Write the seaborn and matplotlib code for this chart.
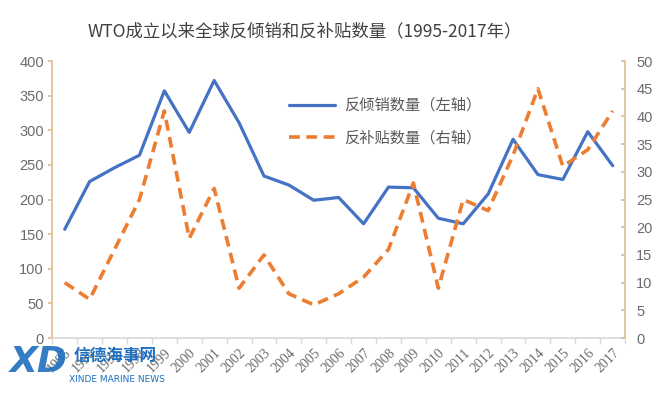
import numpy as np
import pandas as pd
import matplotlib
matplotlib.use("Agg")
import matplotlib.pyplot as plt
import seaborn as sns

# data
years = list(range(1995, 2018))
anti_dumping = [157, 226, 246, 264, 357, 297, 372, 311, 234, 221, 199, 203, 165, 218, 217,
                173, 165, 208, 287, 236, 229, 298, 249]
countervailing = [10, 7, 16, 25, 41, 18, 27, 9, 15, 8, 6, 8, 11, 16, 28,
                  9, 25, 23, 33, 45, 31, 34, 41]
title = "WTO成立以来全球反倾销和反补贴数量（1995-2017年）"
label_ad = "反倾销数量（左轴）"
label_cv = "反补贴数量（右轴）"

df = pd.DataFrame({"year": years, "ad": anti_dumping, "cv": countervailing})

sns.set_theme(style="white")
plt.rcParams['font.family'] = ['Noto Sans CJK SC', 'DejaVu Sans']

BLUE = "#4472C4"
ORANGE = "#ED7D31"
GREY = "#595959"
SPINE = "#E2BE96"

fig = plt.figure(figsize=(6.7, 3.94), dpi=100)
ax = fig.add_axes([0.078, 0.142, 0.855, 0.703])
ax2 = ax.twinx()

sns.lineplot(data=df, x="year", y="ad", ax=ax, color=BLUE, linewidth=2.3, label=label_ad, legend=False)
sns.lineplot(data=df, x="year", y="cv", ax=ax2, color=ORANGE, linewidth=2.6, label=label_cv, legend=False)
ax2.lines[0].set_dashes((3, 1.8))

ax.set_xlim(1994.5, 2017.5)
ax.set_ylim(0, 400)
ax2.set_ylim(0, 50)
ax.set_yticks(np.arange(0, 401, 50))
ax2.set_yticks(np.arange(0, 51, 5))
ax.set_xticks(years)
ax.set_xticks(np.arange(1994.5, 2018, 1), minor=True)
ax.set_xticklabels([str(y) for y in years], rotation=45, ha="right", rotation_mode="anchor",
                   family=["Liberation Serif"], fontsize=10, color="#6b6b6b")
ax.set_xlabel("")
ax.set_ylabel("")
ax2.set_ylabel("")

for a in (ax, ax2):
    for s in a.spines.values():
        s.set_visible(False)
ax.spines["left"].set_visible(True)
ax.spines["left"].set_color(SPINE)
ax.spines["bottom"].set_visible(True)
ax.spines["bottom"].set_color("#D9D9D9")
ax2.spines["right"].set_visible(True)
ax2.spines["right"].set_color(SPINE)

ax.tick_params(axis="y", which="major", length=3, color=SPINE, labelcolor="#6b6b6b", labelsize=10.5, left=True, pad=3)
ax2.tick_params(axis="y", which="major", length=3, direction="in", color=SPINE, labelcolor="#6b6b6b", labelsize=10.5, right=True, pad=8)
ax.tick_params(axis="x", which="major", length=0, pad=6)
ax.tick_params(axis="x", which="minor", length=4, color="#D9D9D9", bottom=True)
for t in ax.get_yticklabels() + ax2.get_yticklabels():
    t.set_family(["Liberation Sans"])

h1, l1 = ax.get_legend_handles_labels()
h2, l2 = ax2.get_legend_handles_labels()
leg = ax.legend(h1 + h2, l1 + l2, loc="upper left", bbox_to_anchor=(0.39, 0.92), frameon=False,
                fontsize=11, handlelength=3.0, labelspacing=1.0, handletextpad=0.6)
for t in leg.get_texts():
    t.set_color(GREY)

fig.text(0.455, 0.92, title, ha="center", va="center", fontsize=12.5, color="#404040")

# watermark
fig.text(0.015, 0.055, "XD", fontsize=26, fontweight="bold", fontstyle="italic", color="#1E6FBF",
         family=["DejaVu Sans"], alpha=0.9)
fig.text(0.11, 0.085, "信德海事网", fontsize=12, fontweight="bold", color="#1E6FBF", fontstyle="italic")
fig.text(0.103, 0.03, "XINDE MARINE NEWS", fontsize=6.5, color="#1E6FBF", family=["DejaVu Sans"])

fig.savefig("out.png", dpi=100, facecolor="white")
